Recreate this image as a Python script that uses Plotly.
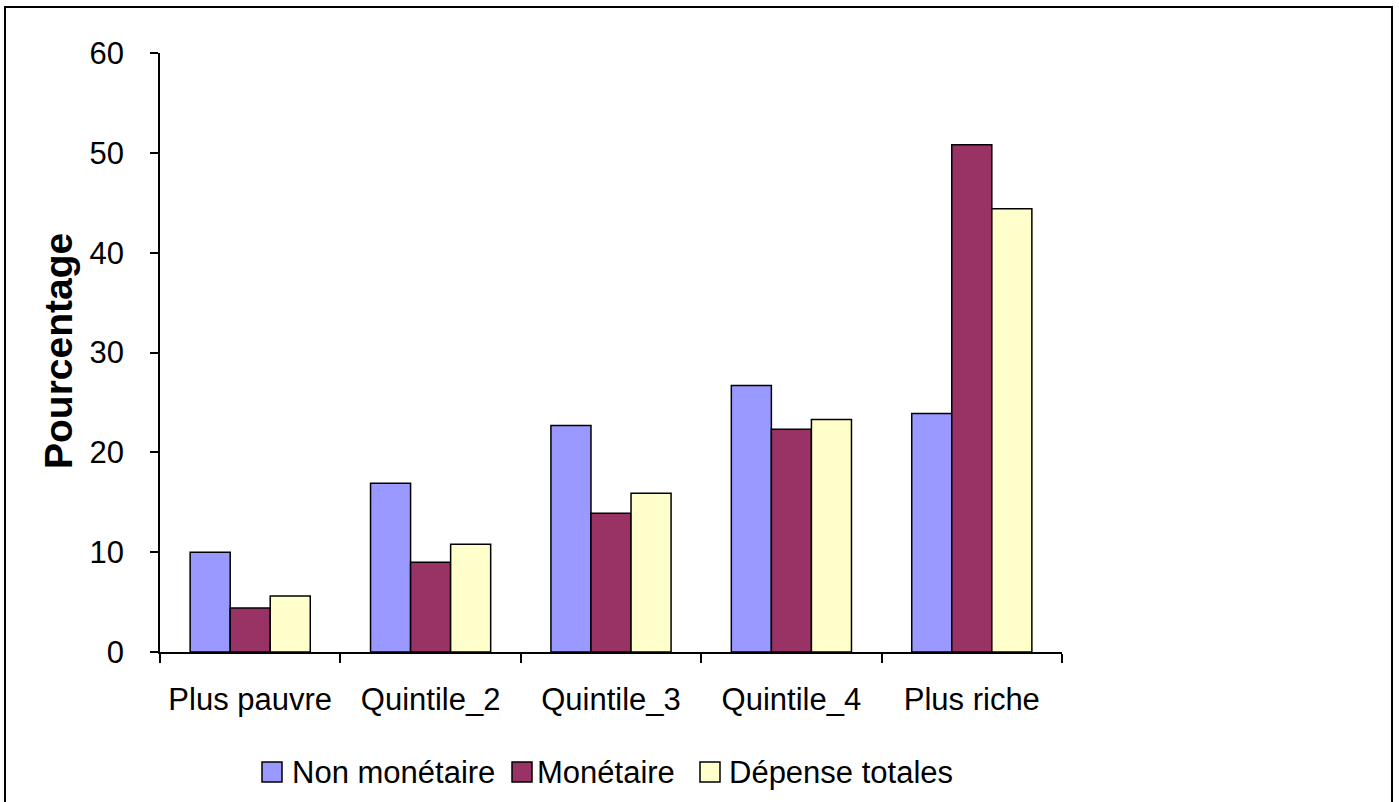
import plotly.graph_objects as go

categories = ["Plus pauvre", "Quintile_2", "Quintile_3", "Quintile_4", "Plus riche"]
non_monetaire = [10.0, 16.9, 22.7, 26.7, 23.9]
monetaire = [4.4, 9.0, 13.9, 22.3, 50.8]
depense_totales = [5.6, 10.8, 15.9, 23.3, 44.4]
series_names = ["Non monétaire", "Monétaire", "Dépense totales"]
y_ticks = [0, 10, 20, 30, 40, 50, 60]

colors = ["#9999FF", "#993366", "#FFFFCC"]
FONT = "Liberation Sans, Arial, sans-serif"

W, H = 1399, 802
L, R, T, B = 160, 337, 53, 150
PW = W - L - R
PH = H - T - B


def px_x(px):
    return (px - L) / PW


def px_y(py):
    return (H - B - py) / PH


fig = go.Figure()
for name, vals, col in zip(series_names, [non_monetaire, monetaire, depense_totales], colors):
    fig.add_trace(go.Bar(
        x=categories, y=vals, name=name,
        marker=dict(color=col, line=dict(color="black", width=1.5)),
        showlegend=False,
    ))

shapes = [
    dict(type="rect", xref="paper", yref="paper",
         x0=px_x(5), x1=px_x(1392), y0=px_y(815), y1=px_y(7),
         line=dict(color="black", width=2), fillcolor="rgba(0,0,0,0)", layer="above"),
]
annotations = []

# legend drawn manually to match the large square keys
legend_sq_centers = [272, 522, 710]
legend_text_starts = [292, 537, 729]
legend_y = 772
for name, col, cx, tx in zip(series_names, colors, legend_sq_centers, legend_text_starts):
    shapes.append(dict(
        type="rect", xref="paper", yref="paper",
        xsizemode="pixel", ysizemode="pixel",
        xanchor=px_x(cx), yanchor=px_y(legend_y),
        x0=-10, x1=10, y0=-10, y1=10,
        fillcolor=col, line=dict(color="black", width=1.5),
    ))
    annotations.append(dict(
        text=name, xref="paper", yref="paper",
        x=px_x(tx), y=px_y(legend_y), xanchor="left", yanchor="middle",
        showarrow=False, font=dict(family=FONT, size=31, color="black"),
        xshift=-2,
    ))

annotations.append(dict(
    text="<b>Pourcentage</b>", xref="paper", yref="paper",
    x=px_x(58), y=px_y(351), xanchor="center", yanchor="middle", textangle=-90,
    showarrow=False, font=dict(family=FONT, size=39, color="black"),
))

fig.update_layout(
    width=W, height=H,
    margin=dict(l=L, r=R, t=T, b=B, pad=0),
    paper_bgcolor="white", plot_bgcolor="white",
    barmode="group", bargap=0.334, bargroupgap=0,
    font=dict(family=FONT, size=31, color="black"),
    shapes=shapes, annotations=annotations,
    showlegend=False,
)
fig.update_xaxes(
    showline=True, linecolor="black", linewidth=1.5,
    ticks="outside", tickson="boundaries", ticklen=9, tickwidth=1.5, tickcolor="black",
    ticklabelstandoff=19, tickfont=dict(family=FONT, size=31, color="black"),
    showgrid=False, zeroline=False,
)
fig.update_yaxes(
    range=[0, 60], tickvals=y_ticks,
    showline=True, linecolor="black", linewidth=1.5,
    ticks="outside", ticklen=8, tickwidth=1.5, tickcolor="black",
    ticklabelstandoff=20, tickfont=dict(family=FONT, size=31, color="black"),
    showgrid=False, zeroline=False,
)

fig.write_html(
    "out.html",
    config={"displayModeBar": False},
    post_script="document.body.style.margin='0';document.body.style.overflow='hidden';",
)
